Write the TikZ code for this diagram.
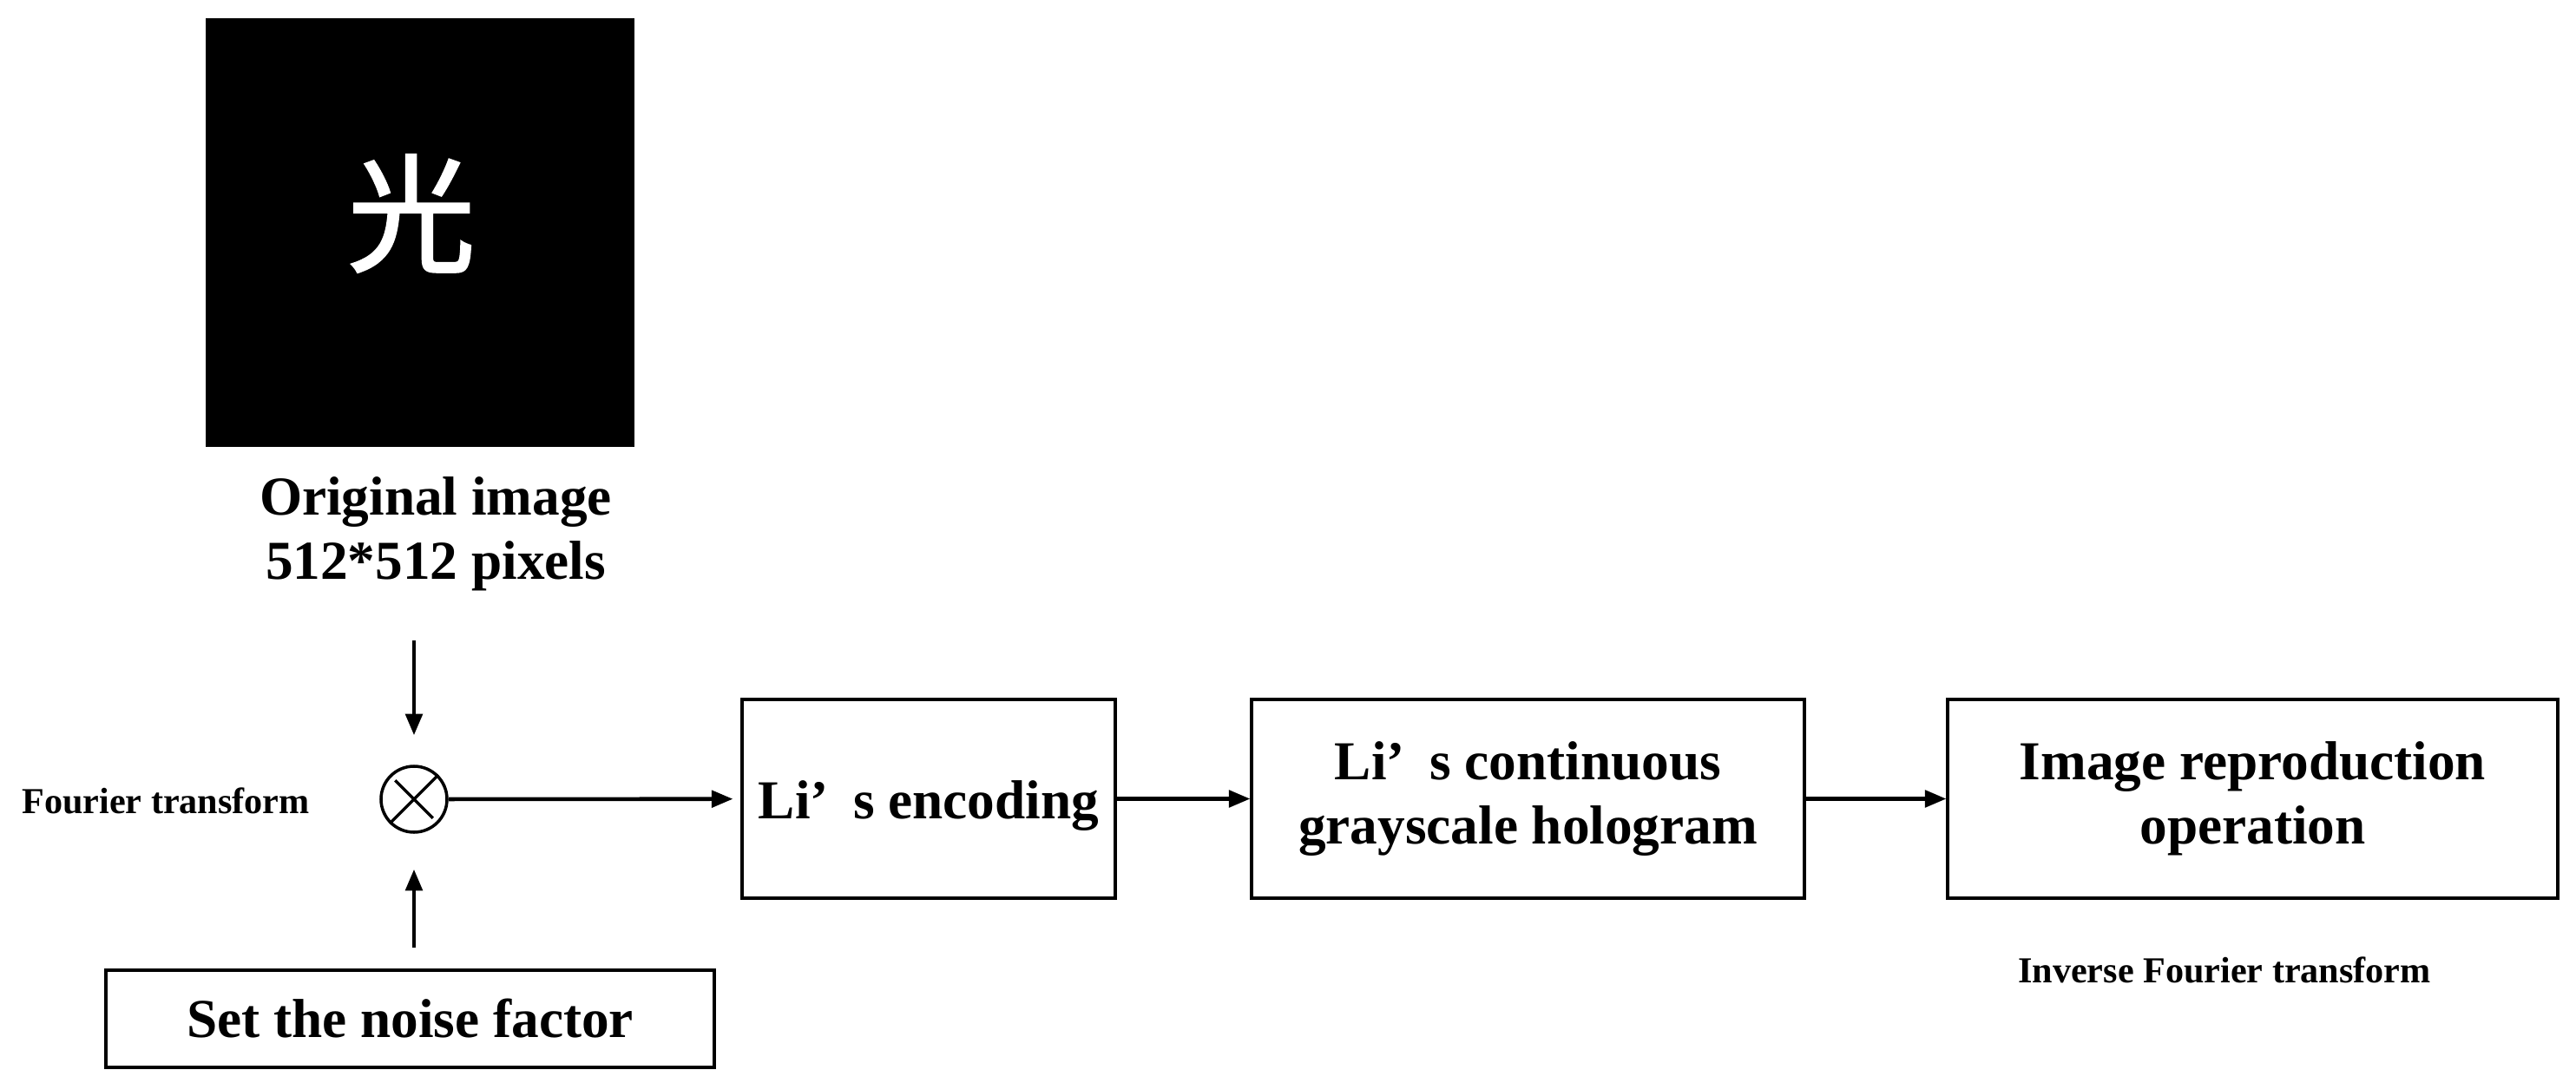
\documentclass[tikz,border=0pt]{standalone}
\usepackage{fontspec}
\setmainfont{Liberation Serif}
\newfontfamily\cjk[FakeBold=1.6]{Noto Sans CJK SC}
\usetikzlibrary{arrows.meta}
\tikzstyle{blk}=[draw, line width=0.9pt, inner sep=0pt, align=center, font=\fontsize{18}{21}\selectfont\bfseries]
\tikzstyle{lbl}=[inner sep=0pt, align=center, font=\fontsize{18}{21}\selectfont\bfseries]
\tikzstyle{note}=[inner sep=0pt, anchor=base, font=\fontsize{12}{14}\selectfont\bfseries]
\tikzstyle{to}=[-{Triangle[length=7pt,width=5.5pt]}, line width=1.3pt]

\begin{document}
\begin{tikzpicture}
        \useasboundingbox (0,0) rectangle (29.68,-12.48);
        \node[fill=black, minimum size=4.94cm, inner sep=0pt] (img) at (4.84,-2.68) {};
        \node[text=white, inner sep=0pt, font=\cjk\fontsize{42}{42}\selectfont] (glyph) at (4.74,-2.46) {光};
        \node[lbl] (cap) at (5.02,-6.15) {Original image\\512*512 pixels};
        \node[draw, circle, line width=1pt, minimum size=0.76cm, inner sep=0pt] (mul) at (4.77,-9.21) {};
        \draw[line width=1pt, shorten <=0.09cm, shorten >=0.09cm]
            (mul.45) -- (mul.225)
            (mul.135) -- (mul.315);
        \coordinate (in) at (4.77,-7.38);
        \draw[to, shorten >=0.34cm] (in) -- (mul.north);
        \node[note] (ft) at (1.91,-9.37) {Fourier transform};
        \node[blk, minimum width=7.01cm, minimum height=1.12cm] (noise) at (4.725,-11.74) {Set the noise factor};
        \draw[to, shorten <=0.24cm, shorten >=0.41cm] (noise.north -| mul) -- (mul.south);
        \node[blk, minimum width=4.30cm, minimum height=2.29cm, text height=0.6cm] (enc) at (10.70,-9.205) {Li’\hspace{0.45em}s encoding};
        \node[blk, minimum width=6.37cm, minimum height=2.29cm] (holo) at (17.605,-9.205) {Li’\hspace{0.45em}s continuous\\grayscale hologram};
        \node[blk, minimum width=7.03cm, minimum height=2.29cm] (repro) at (25.955,-9.205) {Image reproduction\\operation};
        \node[note] (ift) at (25.63,-11.32) {Inverse Fourier transform};
        \draw[to, shorten >=0.09cm] (mul) -- (enc);
        \draw[to] (enc) -- (holo);
        \draw[to] (holo) -- (repro);
    \end{tikzpicture}
\end{document}
